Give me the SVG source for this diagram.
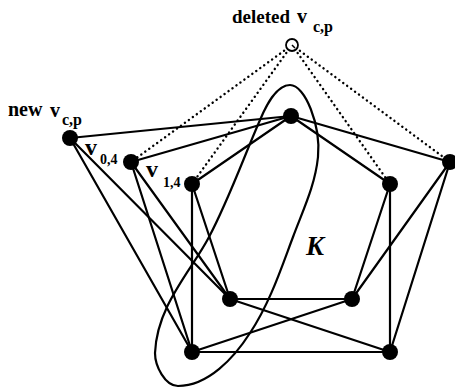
<svg xmlns="http://www.w3.org/2000/svg" width="455" height="388" viewBox="0 0 455 388">
<style>
.e{stroke:#000;stroke-width:2.2;fill:none;stroke-linecap:round}
.d{stroke:#000;stroke-width:2.4;fill:none;stroke-dasharray:0.1 4.8;stroke-linecap:round}
.n{fill:#000}
.t{font-family:"Liberation Serif","Times New Roman",serif;font-weight:bold;fill:#000}
</style>
<rect width="455" height="388" fill="#fff"/>
<g id="connectors">
<line class="d" x1="292" y1="45" x2="131" y2="162"/>
<line class="d" x1="292" y1="45" x2="192" y2="184"/>
<line class="d" x1="292" y1="45" x2="390" y2="184"/>
<line class="d" x1="292" y1="45" x2="450" y2="162"/>
<line class="e" x1="70" y1="138" x2="291" y2="116"/>
<line class="e" x1="131" y1="162" x2="291" y2="116"/>
<line class="e" x1="192" y1="184" x2="291" y2="116"/>
<line class="e" x1="291" y1="116" x2="390" y2="184"/>
<line class="e" x1="291" y1="116" x2="450" y2="162"/>
<line class="e" x1="70" y1="138" x2="230" y2="299"/>
<line class="e" x1="70" y1="138" x2="192" y2="352"/>
<line class="e" x1="131" y1="162" x2="230" y2="299"/>
<line class="e" x1="131" y1="162" x2="192" y2="352"/>
<line class="e" x1="192" y1="184" x2="230" y2="299"/>
<line class="e" x1="192" y1="184" x2="192" y2="352"/>
<line class="e" x1="390" y1="184" x2="352" y2="299"/>
<line class="e" x1="390" y1="184" x2="390" y2="352"/>
<line class="e" x1="450" y1="162" x2="352" y2="299"/>
<line class="e" x1="450" y1="162" x2="390" y2="352"/>
<line class="e" x1="230" y1="299" x2="352" y2="299"/>
<line class="e" x1="192" y1="352" x2="390" y2="352"/>
<line class="e" x1="230" y1="299" x2="390" y2="352"/>
<line class="e" x1="352" y1="299" x2="192" y2="352"/>
</g>
<g id="K">
<path class="e" d="M290,85 C305,85 321,125 318,157 C315,186 303,210 293,237 C282,266 270,303 250,333 C234,358 208,386 178,386 C165,386 155,366 155,353 C157,305 192,270 209,237 C229,199 243,159 260,120 C266,106 276,85 290,85 Z"/>
<text class="t" x="306" y="255" font-size="27" font-style="italic">K</text>
</g>
<g id="deleted">
<circle cx="292" cy="45" r="6" fill="#fff" stroke="#000" stroke-width="1.8"/>
<line x1="292" y1="45" x2="295" y2="48" stroke="#000" stroke-width="1.5"/>
<text class="t" x="232" y="23" font-size="19">deleted</text>
<text class="t" x="297" y="23" font-size="20">v</text>
<text class="t" x="313" y="32" font-size="16">c,p</text>
</g>
<g id="new">
<circle class="n" cx="70" cy="138" r="8"/>
<text class="t" x="8" y="116" font-size="20">new</text>
<text class="t" x="50" y="117" font-size="20">v</text>
<text class="t" x="62" y="125" font-size="16">c,p</text>
</g>
<g id="v04">
<circle class="n" cx="131" cy="162" r="8"/>
<text class="t" x="85" y="155" font-size="24">v</text>
<text class="t" x="100" y="164" font-size="14">0,4</text>
</g>
<g id="v14">
<circle class="n" cx="192" cy="184" r="8"/>
<text class="t" x="146" y="177" font-size="24">v</text>
<text class="t" x="163" y="187" font-size="14">1,4</text>
</g>
<g id="top"><circle class="n" cx="291" cy="116" r="8"/></g>
<g id="r1"><circle class="n" cx="390" cy="184" r="8"/></g>
<g id="r2"><circle class="n" cx="450" cy="162" r="8"/></g>
<g id="bl"><circle class="n" cx="230" cy="299" r="8"/></g>
<g id="br"><circle class="n" cx="352" cy="299" r="8"/></g>
<g id="obl"><circle class="n" cx="192" cy="352" r="8"/></g>
<g id="obr"><circle class="n" cx="390" cy="352" r="8"/></g>
</svg>
